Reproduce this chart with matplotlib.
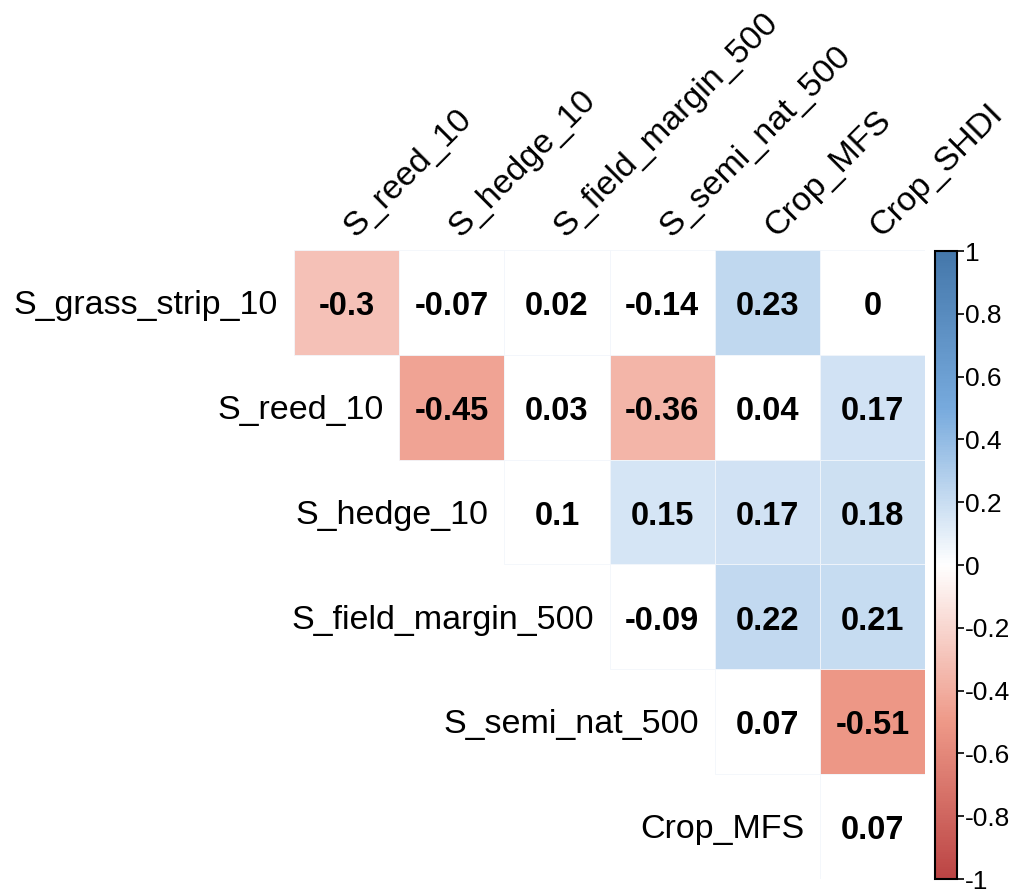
import matplotlib
matplotlib.use("Agg")
import matplotlib.pyplot as plt
from matplotlib.colors import LinearSegmentedColormap, Normalize
from matplotlib.patches import Rectangle
import matplotlib.cm as cm

plt.rcParams['font.family'] = ['Liberation Sans', 'DejaVu Sans']

row_labels = ["S_grass_strip_10", "S_reed_10", "S_hedge_10",
              "S_field_margin_500", "S_semi_nat_500", "Crop_MFS"]
col_labels = ["S_reed_10", "S_hedge_10", "S_field_margin_500",
              "S_semi_nat_500", "Crop_MFS", "Crop_SHDI"]

# upper-triangle correlations (row i, columns i..5)
corr_rows = [
    [-0.30, -0.07, 0.02, -0.14, 0.23, 0.00],
    [-0.45, 0.03, -0.36, 0.04, 0.17],
    [0.10, 0.15, 0.17, 0.18],
    [-0.09, 0.22, 0.21],
    [0.07, -0.51],
    [0.07],
]
# 1 = significant (coloured), 0 = blank
sig_rows = [
    [1, 0, 0, 0, 1, 0],
    [1, 0, 1, 0, 1],
    [0, 1, 1, 1],
    [0, 1, 1],
    [0, 1],
    [0],
]
cbar_ticks = [-1, -0.8, -0.6, -0.4, -0.2, 0, 0.2, 0.4, 0.6, 0.8, 1]

cmap = LinearSegmentedColormap.from_list(
    "corr", ["#BB4444", "#EE9988", "#FFFFFF", "#77AADD", "#4477AA"])
norm = Normalize(-1, 1)

W, H = 1009, 896
fig = plt.figure(figsize=(W / 100, H / 100), dpi=100)
ax = fig.add_axes([294 / W, 1 - 879 / H, (925 - 294) / W, (879 - 250) / H])
ax.set_xlim(0, 6)
ax.set_ylim(6, 0)
ax.axis("off")

def fmt(v):
    s = ("%.2f" % v).rstrip("0").rstrip(".")
    return "0" if s in ("-0", "") else s

n = len(row_labels)
for i in range(n):
    for k, (v, s) in enumerate(zip(corr_rows[i], sig_rows[i])):
        j = i + k
        fc = cmap(norm(v)) if s else "white"
        ax.add_patch(Rectangle((j, i), 1, 1, facecolor=fc,
                               edgecolor="#F2F6FB", linewidth=0.6))
        ax.text(j + 0.5, i + 0.54, fmt(v), ha="center", va="center",
                fontsize=23.5, fontweight="bold", color="black")
    ax.text(i - 0.15, i + 0.53, row_labels[i], ha="right", va="center",
            fontsize=24.5, color="black")

for j, lab in enumerate(col_labels):
    ax.text(j + 0.585, -0.11, lab, ha="left", va="baseline", rotation=45,
            rotation_mode="anchor", fontsize=24.5, color="black")

cax = fig.add_axes([935 / W, 1 - 879 / H, 22 / W, (879 - 251) / H])
cb = fig.colorbar(cm.ScalarMappable(norm=norm, cmap=cmap), cax=cax,
                  ticks=cbar_ticks)
cb.ax.set_yticklabels([fmt(t) for t in cbar_ticks])
cb.ax.tick_params(labelsize=19, length=5, width=1.2, pad=1, colors="black")
cb.outline.set_linewidth(1.5)

fig.savefig("out.png", dpi=100)
